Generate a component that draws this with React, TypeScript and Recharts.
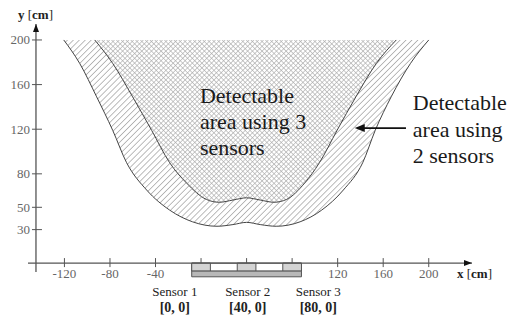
import React from 'react';
import {
  ComposedChart,
  Area,
  XAxis,
  YAxis,
  ReferenceLine,
  ReferenceDot,
  ReferenceArea,
} from 'recharts';

// boundary of the area seen by 2 sensors (cm)
const outerX = [-120.6, -106.6, -91.7, -77.6, -65.4, -47.8, -27.6, -7.5, 14, 28, 40, 52, 66, 87, 106, 125, 142, 153, 167, 184, 200];
const outerY = [200, 179, 149, 119, 90, 65.5, 47.5, 37, 33, 34.5, 36.5, 34.5, 33, 37, 47.5, 65.5, 90, 119, 149, 179, 200];

// boundary of the area seen by 3 sensors (cm)
const innerX = [-93.4, -77.6, -60.1, -43.4, -27.6, -12.7, 4.8, 16, 28, 40, 52, 64, 75, 91, 104, 119.5, 136, 154, 171.5];
const innerY = [200, 179, 149, 119, 90, 71.7, 57, 54.5, 56.5, 58.5, 56.5, 54.5, 57, 71.7, 90, 119, 149, 179, 200];

const xTicks = [-120, -80, -40, 120, 160, 200];
const yTicks = [30, 50, 80, 120, 160, 200];

const sensors = [0, 40, 80];
const sensorNames = ['Sensor 1', 'Sensor 2', 'Sensor 3'];
const sensorCoords = ['[0, 0]', '[40, 0]', '[80, 0]'];

const outerData = outerX.map((x, i) => ({ x, y: outerY[i] }));
const innerData = innerX.map((x, i) => ({ x, y: innerY[i] }));

const serif = "'Liberation Serif', 'DejaVu Serif', serif";
const fs = (size: number, weight: string = 'normal') => ({ fontFamily: serif, fontSize: size, fontWeight: weight });
const sensorHalf = 8.2;
const sensorLabelX = [-23, 41, 103];

const W = 515;
const H = 320;

const textBlock = (lines: string[], size: number, lh: number) => (p: any) => (
  <text x={p.cx} y={p.cy} style={fs(size)} fill="#1a1a1a">
    {lines.map((l, i) => (
      <tspan key={i} x={p.cx} dy={i === 0 ? 0 : lh}>
        {l}
      </tspan>
    ))}
  </text>
);

const App: React.FC = () => {
  return (
    <div style={{ position: 'absolute', left: 0, top: 0 }}>
      <ComposedChart width={W} height={H} margin={{ top: 24, right: 43, bottom: 41.3, left: 28 }}>
        <defs>
          <pattern id="hatch" patternUnits="userSpaceOnUse" width={4.2} height={4.2} patternTransform="rotate(45)">
            <rect width={4.2} height={4.2} fill="#fff" />
            <line x1={0} y1={0} x2={0} y2={4.2} stroke="#7a7a7a" strokeWidth={1} />
          </pattern>
          <pattern id="cross" patternUnits="userSpaceOnUse" width={3.4} height={3.4} patternTransform="rotate(45)">
            <rect width={3.4} height={3.4} fill="#fff" />
            <line x1={0} y1={0} x2={0} y2={3.4} stroke="#a8a8a8" strokeWidth={1.2} />
            <line x1={0} y1={0} x2={3.4} y2={0} stroke="#a8a8a8" strokeWidth={1.2} />
          </pattern>
        </defs>
        <XAxis type="number" dataKey="x" domain={[-152, 238]} hide allowDataOverflow />
        <YAxis type="number" domain={[-14, 214.3]} hide allowDataOverflow />

        <Area
          data={outerData}
          dataKey="y"
          type="monotone"
          baseValue={200}
          stroke="#444"
          strokeWidth={1}
          fill="url(#hatch)"
          fillOpacity={1}
          dot={false}
          activeDot={false}
          isAnimationActive={false}
        />
        <Area
          data={innerData}
          dataKey="y"
          type="monotone"
          baseValue={200}
          stroke="#444"
          strokeWidth={1}
          fill="url(#cross)"
          fillOpacity={1}
          dot={false}
          activeDot={false}
          isAnimationActive={false}
        />

        {/* axes */}
        <ReferenceLine y={0} stroke="#555" strokeWidth={1.3} />
        <ReferenceLine
          segment={[{ x: -145, y: -8 }, { x: -145, y: 214.3 }]}
          stroke="#555"
          strokeWidth={1.3}
          ifOverflow="visible"
        />
        <ReferenceDot
          x={-145}
          y={214.3}
          r={0}
          ifOverflow="visible"
          shape={(p: any) => (
            <path d={`M${p.cx},${p.cy} L${p.cx - 3},${p.cy + 8} L${p.cx + 3},${p.cy + 8} Z`} fill="#111" />
          )}
        />
        <ReferenceDot
          x={238}
          y={0}
          r={0}
          ifOverflow="visible"
          shape={(p: any) => (
            <path d={`M${p.cx},${p.cy} L${p.cx - 8},${p.cy - 3} L${p.cx - 8},${p.cy + 3} Z`} fill="#111" />
          )}
        />

        {xTicks.map((t) => (
          <ReferenceDot
            key={`xt-${t}`}
            x={t}
            y={0}
            r={0}
            ifOverflow="visible"
            shape={(p: any) => (
              <g>
                <line x1={p.cx} y1={p.cy - 5} x2={p.cx} y2={p.cy + 4} stroke="#555" strokeWidth={1} />
                <text x={p.cx} y={p.cy + 15} textAnchor="middle" style={fs(13)} fill="#666">
                  {t}
                </text>
              </g>
            )}
          />
        ))}
        {sensors.map((s) => (
          <ReferenceDot
            key={`st-${s}`}
            x={s}
            y={0}
            r={0}
            ifOverflow="visible"
            shape={(p: any) => (
              <line x1={p.cx} y1={p.cy - 5} x2={p.cx} y2={p.cy} stroke="#555" strokeWidth={1} />
            )}
          />
        ))}
        {yTicks.map((t) => (
          <ReferenceDot
            key={`yt-${t}`}
            x={-145}
            y={t}
            r={0}
            ifOverflow="visible"
            shape={(p: any) => (
              <g>
                <line x1={p.cx - 4} y1={p.cy} x2={p.cx + 6} y2={p.cy} stroke="#555" strokeWidth={1} />
                <text x={p.cx - 6} y={p.cy + 4.5} textAnchor="end" style={fs(13)} fill="#666">
                  {t}
                </text>
              </g>
            )}
          />
        ))}

        {/* axis titles */}
        <ReferenceDot
          x={-145}
          y={214.3}
          r={0}
          ifOverflow="visible"
          shape={(p: any) => (
            <text x={p.cx - 18} y={p.cy - 5} style={fs(13)} fill="#222">
              <tspan fontWeight="bold">y</tspan>
              <tspan> [</tspan>
              <tspan fontWeight="bold">cm</tspan>
              <tspan>]</tspan>
            </text>
          )}
        />
        <ReferenceDot
          x={238}
          y={0}
          r={0}
          ifOverflow="visible"
          shape={(p: any) => (
            <text x={p.cx - 15} y={p.cy + 15} style={fs(13)} fill="#222">
              <tspan fontWeight="bold">x</tspan>
              <tspan> [</tspan>
              <tspan fontWeight="bold">cm</tspan>
              <tspan>]</tspan>
            </text>
          )}
        />

        {/* sensor bar */}
        <ReferenceArea
          x1={sensors[0] - sensorHalf}
          x2={sensors[sensors.length - 1] + sensorHalf}
          y1={-7.2}
          y2={0}
          fill="#fff"
          fillOpacity={1}
          stroke="#555"
          ifOverflow="visible"
        />
        {sensors.map((s) => (
          <ReferenceArea
            key={`sb-${s}`}
            x1={s - sensorHalf}
            x2={s + sensorHalf}
            y1={-7.2}
            y2={0}
            fill="#d4d4d4"
            fillOpacity={1}
            stroke="#555"
            ifOverflow="visible"
          />
        ))}
        <ReferenceArea
          x1={sensors[0] - sensorHalf}
          x2={sensors[sensors.length - 1] + sensorHalf}
          y1={-12.3}
          y2={-7.2}
          fill="#b8b8b8"
          fillOpacity={1}
          stroke="#555"
          ifOverflow="visible"
        />
        {sensors.map((s, i) => (
          <ReferenceDot
            key={`sl-${s}`}
            x={sensorLabelX[i]}
            y={-29.6}
            r={0}
            ifOverflow="visible"
            shape={(p: any) => (
              <text x={p.cx} y={p.cy} textAnchor="middle" style={fs(13)} fill="#222">
                <tspan x={p.cx}>{sensorNames[i]}</tspan>
                <tspan x={p.cx} dy={16} fontWeight="bold" fontSize={14}>
                  {sensorCoords[i]}
                </tspan>
              </text>
            )}
          />
        ))}

        {/* annotations */}
        <ReferenceDot
          x={-1}
          y={143.4}
          r={0}
          ifOverflow="visible"
          shape={textBlock(['Detectable', 'area using 3', 'sensors'], 22, 26)}
        />
        <ReferenceDot
          x={186}
          y={137.1}
          r={0}
          ifOverflow="visible"
          shape={textBlock(['Detectable', 'area using', '2 sensors'], 22, 26.5)}
        />
        <ReferenceLine
          segment={[{ x: 180, y: 121 }, { x: 141, y: 121 }]}
          stroke="#111"
          strokeWidth={1.6}
          ifOverflow="visible"
        />
        <ReferenceDot
          x={135}
          y={121}
          r={0}
          ifOverflow="visible"
          shape={(p: any) => (
            <path d={`M${p.cx},${p.cy} L${p.cx + 10},${p.cy - 4} L${p.cx + 10},${p.cy + 4} Z`} fill="#111" />
          )}
        />
      </ComposedChart>
    </div>
  );
};

export default App;
